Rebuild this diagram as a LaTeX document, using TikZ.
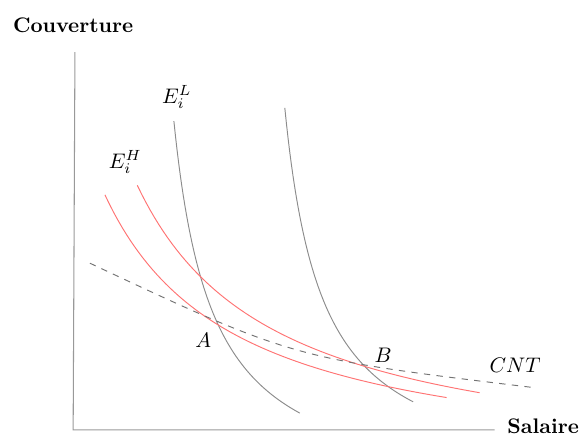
\documentclass[tikz,border=0pt]{standalone}
\usepackage{amsmath}
\usepackage{tikz}
\usetikzlibrary{positioning}

\begin{document}
\begin{tikzpicture}[axe/.style={draw=black!40,line width=.5pt},courbe/.style={black!45,line width=.45pt},iso/.style={red!55,line width=.45pt},cnt/.style={black!55,dashed,line width=.45pt},lbl/.style={inner sep=1pt}]
\useasboundingbox (-1.22,-0.08) rectangle (8.52,7.17);
\coordinate (o) at (0,0);
\coordinate (ytop) at (0.03,6.3);
\coordinate (xend) at (7.03,0);
\draw[axe] (ytop) -- (o) -- (xend);
\node[lbl,font=\bfseries] (couv) at (0,6.75) {Couverture};
\node[lbl,font=\bfseries,anchor=base west] (sal) at (7.2,-0.06) {Salaire};
% courbes E_i^L
\draw[courbe] plot[domain=1.68:3.78,samples=80] (\x,{4.114/(\x-1.034)-1.218});
\draw[courbe] plot[domain=3.53:5.67,samples=80] (\x,{3.973/(\x-2.903)-0.967});
% courbes E_i^H
\draw[iso] plot[domain=0.53:6.23,samples=80] (\x,{10.19/(\x+1.65)-0.754});
\draw[iso] plot[domain=1.07:6.78,samples=80] (\x,{11.18/(\x+1.233)-0.775});
% CNT
\coordinate (c0) at (0.28,2.78);
\coordinate (c1) at (7.73,0.7);
\draw[cnt] (c0) .. controls (3.67,1.19) and (3.67,1.19) .. (c1);
\node[lbl] (el) at (1.73,5.55) {$E_i^L$};
\node[lbl] (eh) at (0.87,4.47) {$E_i^H$};
\node[lbl] (a) at (2.17,1.5) {$A$};
\node[lbl] (b) at (5.17,1.25) {$B$};
\node[lbl] (c) at (7.37,1.08) {$CNT$};
\end{tikzpicture}
\end{document}
